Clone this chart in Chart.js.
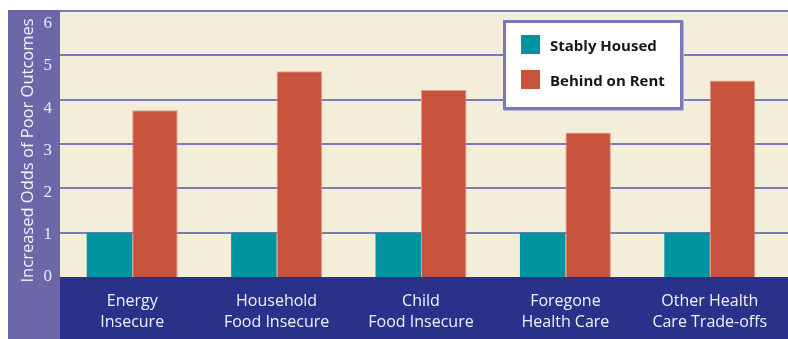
<!DOCTYPE html>
<html>
<head>
<meta charset="utf-8">
<script src="https://cdn.jsdelivr.net/npm/chart.js@4.4.1/dist/chart.umd.min.js"></script>
<style>
    html, body { margin: 0; padding: 0; background: #fff; }
    #wrap { position: relative; width: 788px; height: 339px; }
    #chart { display: block; }
    #legend {
        position: absolute; left: 503px; top: 20px;
        width: 174px; height: 84px;
        border: 3px solid #7b78bd; background: #fff;
        box-shadow: 1px 1px 0 #b9b7d9;
        font-family: 'Open Sans', sans-serif; font-weight: 700; font-size: 15px; color: #161616;
    }
    .item { position: absolute; left: 15px; display: flex; align-items: center; height: 19px; }
    .swatch { width: 19px; height: 19px; margin-right: 10px; }
</style>
</head>
<body>
<div id="wrap">
    <canvas id="chart" width="788" height="339"></canvas>
    <div id="legend"></div>
</div>
<script>
// Chart data
const categories = [
    ['Energy', 'Insecure'],
    ['Household', 'Food Insecure'],
    ['Child', 'Food Insecure'],
    ['Foregone', 'Health Care'],
    ['Other Health', 'Care Trade-offs']
];
const seriesNames = ['Stably Housed', 'Behind on Rent'];
const stablyHoused = [1, 1, 1, 1, 1];
const behindOnRent = [3.76, 4.64, 4.22, 3.26, 4.43];
const yMin = 0;
const yMax = 6;
const yTitle = 'Increased Odds of Poor Outcomes';

const colors = {
    teal: '#0093a0',
    red: '#c8533c',
    redEdge: '#e39a86',
    beige: '#f3eed9',
    grid: '#7b7abb',
    navy: '#29318a',
    band: '#6b67a9'
};

// Paint the coloured panels and the grid behind the bars
const panels = {
    id: 'panels',
    beforeDraw: (chart) => {
        const { ctx, chartArea: area, width, height } = chart;
        const y = chart.scales.y;
        ctx.save();
        ctx.fillStyle = '#fff';
        ctx.fillRect(0, 0, width, height);
        ctx.fillStyle = colors.band;
        ctx.fillRect(8, area.top - 1, area.left - 8, height - area.top + 1);
        ctx.fillStyle = colors.beige;
        ctx.fillRect(area.left, area.top, width - area.left, area.bottom - area.top);
        ctx.fillStyle = colors.navy;
        ctx.fillRect(area.left, area.bottom, width - area.left, height - area.bottom);
        ctx.strokeStyle = colors.grid;
        ctx.lineWidth = 2;
        for (let v = yMin + 1; v <= yMax; v++) {
            const py = Math.round(y.getPixelForValue(v));
            ctx.beginPath();
            ctx.moveTo(area.left, py);
            ctx.lineTo(width, py);
            ctx.stroke();
        }
        ctx.restore();
    }
};

const chart = new Chart(document.getElementById('chart'), {
    type: 'bar',
    data: {
        labels: categories,
        datasets: [
            {
                label: seriesNames[0],
                data: stablyHoused,
                backgroundColor: colors.teal,
                borderWidth: 0
            },
            {
                label: seriesNames[1],
                data: behindOnRent,
                backgroundColor: colors.red,
                borderColor: colors.redEdge,
                borderWidth: 1
            }
        ]
    },
    options: {
        responsive: false,
        animation: false,
        layout: { padding: { top: 11, right: 6, left: 0, bottom: 0 } },
        datasets: { bar: { categoryPercentage: 0.63, barPercentage: 1 } },
        plugins: {
            legend: { display: false },
            tooltip: { enabled: false }
        },
        scales: {
            x: {
                grid: { display: false, drawTicks: false },
                border: { display: false },
                ticks: {
                    color: '#f2f2fa',
                    padding: 14,
                    maxRotation: 0,
                    autoSkip: false,
                    font: { family: 'Open Sans', size: 16, lineHeight: 1.3 }
                },
                afterFit: (scale) => {
                    scale.height = 62;
                    scale.paddingLeft = 0;
                    scale.paddingRight = 0;
                }
            },
            y: {
                display: false,
                min: yMin,
                max: yMax
            },
            yl: {
                position: 'left',
                min: yMin,
                max: 6.3,
                grid: { display: false, drawTicks: false },
                border: { display: false },
                ticks: {
                    stepSize: 1,
                    includeBounds: false,
                    padding: 8,
                    color: '#ebebf6',
                    font: { family: 'Liberation Serif', size: 17 }
                },
                title: {
                    display: true,
                    text: yTitle + '   ',
                    color: '#f4f4fb',
                    padding: { top: 18, bottom: 0 },
                    font: { family: 'Open Sans', size: 16.5 }
                },
                afterFit: (scale) => {
                    scale.width = 60;
                    scale.paddingTop = 0;
                    scale.paddingBottom = 0;
                }
            }
        }
    },
    plugins: [panels]
});

// Legend built from the datasets
const legend = document.getElementById('legend');
chart.data.datasets.forEach((ds, i) => {
    const item = document.createElement('div');
    item.className = 'item';
    item.style.top = (12 + i * 35) + 'px';
    item.innerHTML = `<span class="swatch" style="background:${ds.backgroundColor}"></span><span>${ds.label}</span>`;
    legend.appendChild(item);
});
</script>
</body>
</html>
